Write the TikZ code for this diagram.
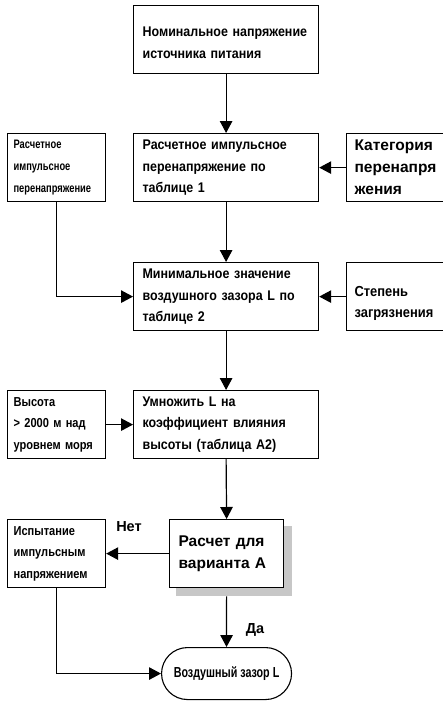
\documentclass[tikz,border=0pt]{standalone}
\usepackage{fontspec}
\setmainfont{Liberation Sans}
\newfontfamily\fMain[FakeStretch=0.89]{Liberation Sans}
\newfontfamily\fMid[FakeStretch=0.85]{Liberation Sans}
\newfontfamily\fNarrow[FakeStretch=0.76]{Liberation Sans}
\newfontfamily\fTerm[FakeStretch=0.74]{Liberation Sans}
\usetikzlibrary{arrows.meta}
\tikzset{
  boxbase/.style={draw, line width=1.2pt, fill=white, anchor=north west, align=left,
    minimum height=68pt, inner ysep=0pt},
  mainbox/.style={boxbase, text width=167pt, inner xsep=9pt,
    font={\fMain\bfseries\fontsize{14}{21.5}\selectfont}},
  smallbox/.style={boxbase, text width=86pt, inner xsep=6pt,
    font={\fNarrow\bfseries\fontsize{12.3}{22}\selectfont}},
  midbox/.style={boxbase, text width=86pt, inner xsep=6pt,
    font={\fMid\bfseries\fontsize{13}{21.5}\selectfont}},
  sidebox/.style={boxbase, text width=83pt, inner xsep=8pt,
    font={\bfseries\fontsize{15.5}{22}\selectfont}},
  sidemain/.style={boxbase, text width=83pt, inner xsep=8pt,
    font={\fMain\bfseries\fontsize{14.5}{21.5}\selectfont}},
  bigbox/.style={boxbase, text width=96pt, inner xsep=9pt,
    font={\bfseries\fontsize{15.5}{22}\selectfont}},
  termbox/.style={draw, line width=1.1pt, fill=white, anchor=north west,
    minimum width=130pt, minimum height=52pt, rounded corners=26pt,
    font={\fTerm\bfseries\fontsize{14.5}{16}\selectfont}},
  lbl/.style={font={\bfseries\fontsize{14.5}{16}\selectfont}, inner sep=0pt},
  conn/.style={line width=1.2pt},
  arr/.style={conn, -{Triangle[length=12pt,width=12.5pt]}},
}
\begin{document}
\begin{tikzpicture}[x=1pt,y=-1pt]
\useasboundingbox (0,0) rectangle (443,701);
% boxes
\node[mainbox] (b1) at (133,5) {\rule{0pt}{16pt}Номинальное напряжение\\источника питания};
\node[mainbox] (b2) at (133,133) {Расчетное импульсное\\перенапряжение по\\таблице 1};
\node[smallbox] (l1) at (7,133) {Расчетное\\импульсное\\перенапряжение};
\node[sidebox] (r1) at (346,133) {Категория\\перенапря\\жения};
\node[mainbox] (b3) at (133,262) {Минимальное значение\\воздушного зазора L по\\таблице 2};
\node[sidemain] (r2) at (346,262) {\rule{0pt}{24pt}Степень\\загрязнения};
\node[mainbox] (b4) at (133,390) {Умножить L на\\коэффициент влияния\\высоты (таблица А2)};
\node[midbox] (l2) at (7,390) {Высота\\> 2000 м над\\уровнем моря};
\node[fill=black!22, anchor=north west, minimum width=116pt, minimum height=70pt, inner sep=0pt] (sh) at (176,526) {};
\node[bigbox] (b5) at (169,519) {Расчет для\\варианта А};
\node[midbox] (l3) at (7,519) {Испытание\\импульсным\\напряжением};
\node[termbox] (t) at (161,647) {Воздушный зазор L};
% labels
\node[lbl] (no) at (129,527) {Нет};
\node[lbl] (yes) at (255,630) {Да};
% connectors
\draw[arr] (b1.south) -- (b2.north);
\draw[arr] (r1.west) -- (b2.east);
\draw[arr] (b2.south) -- (b3.north);
\draw[arr] (l1.south) |- (b3.west);
\draw[arr] (r2.west) -- (b3.east);
\draw[arr] (b3.south) -- (b4.north);
\draw[arr] (l2.east) -- (b4.west);
\draw[arr] (b4.south) -- (b5.north);
\draw[arr] (b5.west) -- (l3.east);
\draw[arr] (b5.south |- sh.south) -- (t.north);
\draw[arr] (l3.south) |- (t.west);
\end{tikzpicture}
\end{document}
